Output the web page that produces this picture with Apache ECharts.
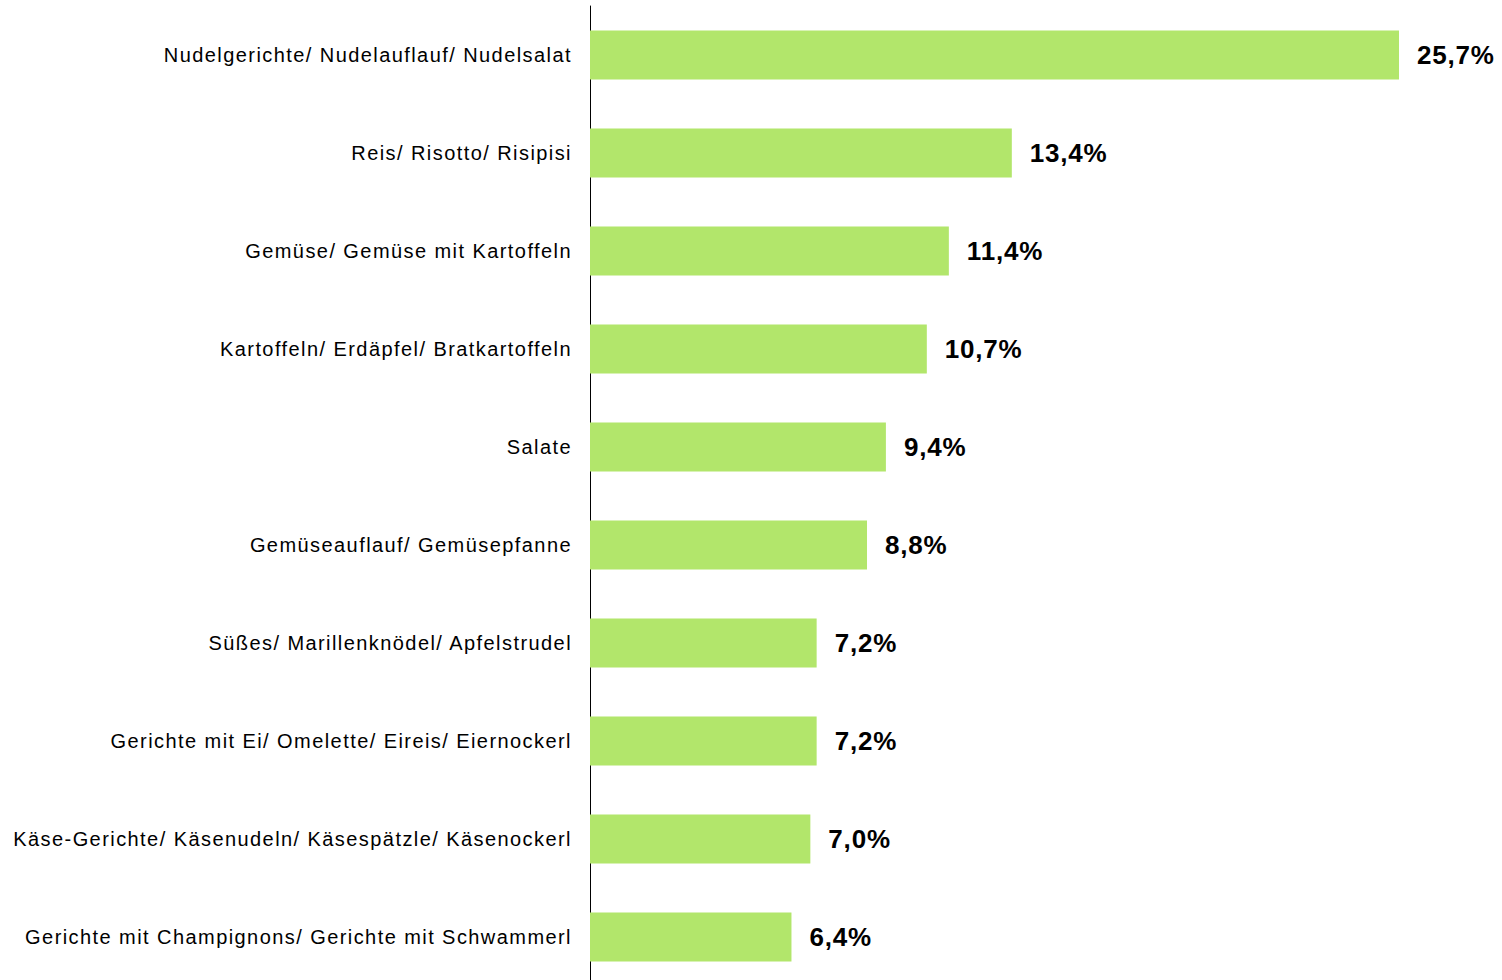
<!DOCTYPE html>
<html>
<head>
<meta charset="utf-8">
<script src="https://cdn.jsdelivr.net/npm/echarts@6/dist/echarts.min.js"></script>
<style>
html,body{margin:0;padding:0;background:#fff}
#c{width:1502px;height:980px}
#c text{letter-spacing:1.43px}
#c text[style*="bold"]{letter-spacing:0.8px}
</style>
</head>
<body>
<div id="c"></div>
<script>
const categories = [
  "Nudelgerichte/ Nudelauflauf/ Nudelsalat",
  "Reis/ Risotto/ Risipisi",
  "Gemüse/ Gemüse mit Kartoffeln",
  "Kartoffeln/ Erdäpfel/ Bratkartoffeln",
  "Salate",
  "Gemüseauflauf/ Gemüsepfanne",
  "Süßes/ Marillenknödel/ Apfelstrudel",
  "Gerichte mit Ei/ Omelette/ Eireis/ Eiernockerl",
  "Käse-Gerichte/ Käsenudeln/ Käsespätzle/ Käsenockerl",
  "Gerichte mit Champignons/ Gerichte mit Schwammerl"
];
const values = [25.7, 13.4, 11.4, 10.7, 9.4, 8.8, 7.2, 7.2, 7.0, 6.4];

const chart = echarts.init(document.getElementById('c'), null, {renderer: 'svg'});
chart.setOption({
  animation: false,
  backgroundColor: '#ffffff',
  grid: {left: 590, top: 6, width: 881.4, height: 980, containLabel: false, outerBoundsMode: 'none'},
  xAxis: {type: 'value', min: 0, max: 28, show: false},
  yAxis: {
    type: 'category', data: categories, inverse: true,
    axisLine: {show: true, lineStyle: {color: '#000', width: 1}},
    axisTick: {show: false},
    axisLabel: {color: '#000', fontSize: 20, fontFamily: 'Liberation Sans, Arial, sans-serif', margin: 18}
  },
  series: [{
    type: 'bar', data: values, barWidth: '50%',
    itemStyle: {color: '#b2e66b'},
    label: {
      show: true, position: 'right', distance: 18,
      color: '#000', fontSize: 26, fontWeight: 'bold',
      fontFamily: 'Liberation Sans, Arial, sans-serif',
      formatter: p => p.value.toFixed(1).replace('.', ',') + '%'
    }
  }]
});
</script>
</body>
</html>
